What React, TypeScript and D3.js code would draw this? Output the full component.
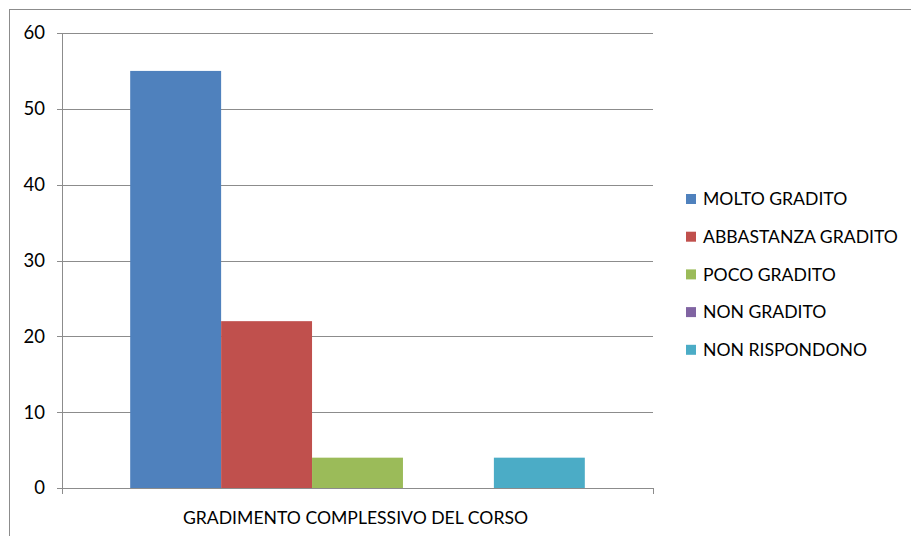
import React, { useEffect, useRef } from 'react';
import * as d3 from 'd3';

const categories = ['MOLTO GRADITO', 'ABBASTANZA GRADITO', 'POCO GRADITO', 'NON GRADITO', 'NON RISPONDONO'];
const values = [55, 22, 4, 0, 4];
const colors = ['#4F81BD', '#C0504D', '#9BBB59', '#8064A2', '#4BACC6'];
const yTicks = [0, 10, 20, 30, 40, 50, 60];
const groupLabel = 'GRADIMENTO COMPLESSIVO DEL CORSO';

const width = 911;
const height = 536;
const font = 'Lato, "Open Sans", sans-serif';

const App: React.FC = () => {
    const ref = useRef<SVGSVGElement>(null);

    useEffect(() => {
        const svg = d3.select(ref.current);
        svg.selectAll('*').remove();

        const left = 62, right = 653, top = 33, bottom = 488;

        // outer chart border (only left and top visible)
        svg.append('rect')
            .attr('x', 9.5).attr('y', 9.5)
            .attr('width', 1000).attr('height', 1000)
            .attr('fill', 'white')
            .attr('stroke', '#8c8c8c')
            .attr('stroke-width', 1);

        const y = d3.scaleLinear().domain([0, 60]).range([bottom, top]);

        // group band with 150% gap width
        const bandW = right - left;
        const barW = bandW / (categories.length + 1.5);
        const x = d3.scaleBand<string>()
            .domain(categories)
            .range([left + barW * 0.75, right - barW * 0.75]);

        // gridlines + ticks
        svg.append('g').selectAll('line')
            .data(yTicks)
            .enter()
            .append('line')
            .attr('x1', left - 5)
            .attr('x2', right)
            .attr('y1', d => Math.round(y(d)) + 0.5)
            .attr('y2', d => Math.round(y(d)) + 0.5)
            .attr('stroke', '#8c8c8c')
            .attr('stroke-width', 1);

        svg.append('g').selectAll('text')
            .data(yTicks)
            .enter()
            .append('text')
            .attr('x', left - 17)
            .attr('y', d => y(d))
            .attr('dy', '0.35em')
            .attr('text-anchor', 'end')
            .attr('font-family', font)
            .attr('font-size', 18.5)
            .attr('fill', '#000')
            .text(d => d);

        // bars
        svg.append('g').selectAll('rect')
            .data(values)
            .enter()
            .append('rect')
            .attr('x', (d, i) => x(categories[i]) as number)
            .attr('y', d => y(d))
            .attr('width', x.bandwidth())
            .attr('height', d => bottom - y(d))
            .attr('fill', (d, i) => colors[i]);

        // axes
        svg.append('line')
            .attr('x1', left + 0.5).attr('x2', left + 0.5)
            .attr('y1', top).attr('y2', bottom + 6)
            .attr('stroke', '#8c8c8c');
        svg.append('line')
            .attr('x1', right + 0.5).attr('x2', right + 0.5)
            .attr('y1', bottom).attr('y2', bottom + 6)
            .attr('stroke', '#8c8c8c');
        svg.append('line')
            .attr('x1', left - 5).attr('x2', right + 1)
            .attr('y1', bottom + 0.5).attr('y2', bottom + 0.5)
            .attr('stroke', '#8c8c8c');

        svg.append('text')
            .attr('x', (left + right) / 2 - 2)
            .attr('y', 518)
            .attr('dy', '0.35em')
            .attr('text-anchor', 'middle')
            .attr('font-family', font)
            .attr('font-size', 17.6)
            .attr('fill', '#000')
            .text(groupLabel);

        // legend
        const legend = svg.append('g')
            .selectAll('.legend')
            .data(categories)
            .enter()
            .append('g')
            .attr('class', 'legend')
            .attr('transform', (d, i) => `translate(686, ${199 + i * 37.7})`);

        legend.append('rect')
            .attr('x', 0).attr('y', -5)
            .attr('width', 10).attr('height', 10)
            .attr('fill', (d, i) => colors[i]);

        legend.append('text')
            .attr('x', 17)
            .attr('y', 0)
            .attr('dy', '0.35em')
            .attr('font-family', font)
            .attr('font-size', 17.6)
            .attr('fill', '#000')
            .text(d => d);
    }, []);

    return <svg ref={ref} width={width} height={height}
        style={{ position: 'absolute', left: 0, top: 0, background: 'white' }}></svg>;
};

export default App;
